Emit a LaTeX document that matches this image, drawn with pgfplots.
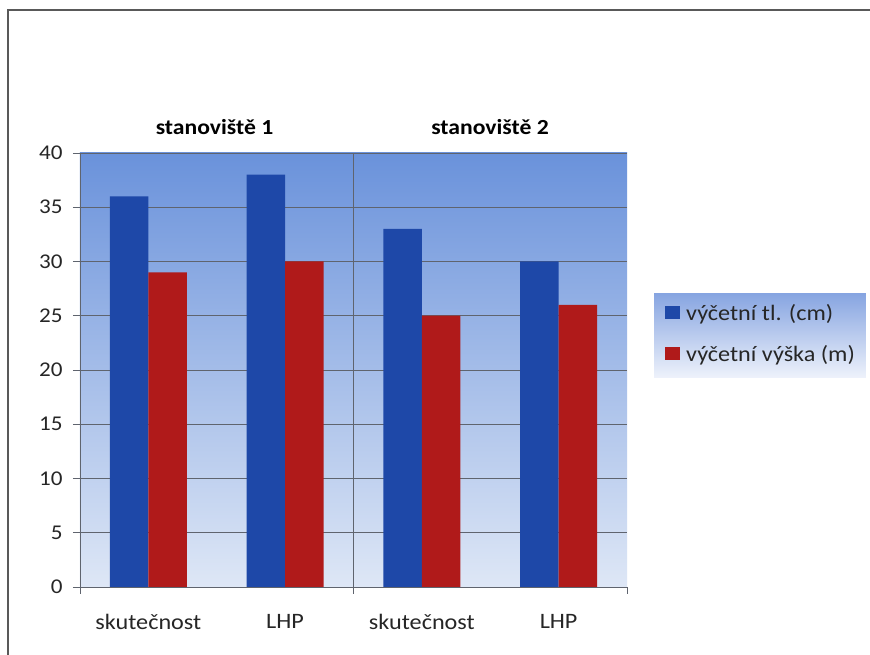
\documentclass[border=0pt]{standalone}
\usepackage{pgfplots}
\pgfplotsset{compat=1.18}
\usepackage{fontspec}
\setmainfont{Carlito}[FakeStretch=1.1]
\definecolor{barblue}{RGB}{30,72,168}
\definecolor{barred}{RGB}{176,26,26}
\definecolor{bgtop}{RGB}{106,146,219}
\definecolor{bgbot}{RGB}{222,231,246}
\definecolor{legtop}{RGB}{135,165,225}
\definecolor{legbot}{RGB}{238,242,251}
\definecolor{gridc}{RGB}{95,100,110}
\begin{document}
\begin{tikzpicture}[x=1pt,y=1pt]
\path[use as bounding box] (0,0) rectangle (870,655);
\fill[white] (0,0) rectangle (870,655);
\draw[line width=1.6pt, color=black!65] (8,0) -- (8,645) -- (870,645);
\node[font=\bfseries\fontsize{21.5}{25}\selectfont] at (214.5,528) {stanoviště 1};
\node[font=\bfseries\fontsize{21.5}{25}\selectfont] at (490,528) {stanoviště 2};
\begin{axis}[
  at={(80pt,68pt)}, anchor=south west, scale only axis,
  width=547pt, height=434pt,
  ybar=0pt, bar width=38.5pt,
  xmin=-0.5, xmax=3.5, ymin=0, ymax=40,
  ytick={0,5,...,40},
  xtick={-0.5,1.5,3.5}, xticklabels={},
  extra x ticks={0,1,2,3},
  extra x tick labels={skutečnost,LHP,skutečnost,LHP},
  extra x tick style={major tick length=0pt, xticklabel style={yshift=-24pt, font=\fontsize{22}{26}\selectfont}},
  axis x line=bottom, axis y line=left,
  axis line style={-, draw=gridc, line width=0.8pt},
  tick align=outside, major tick length=7pt,
  tick style={draw=gridc, line width=0.8pt},
  ymajorgrids, grid style={draw=gridc, line width=0.8pt},
  axis background/.style={top color=bgtop, bottom color=bgbot},
  /pgf/number format/assume math mode=true,
  ticklabel style={font=\fontsize{21}{25}\selectfont, text=black!85},
  yticklabel style={xshift=-7pt},
  legend cell align=left,
  legend style={at={(1.0494,0.4816)}, anchor=south west, draw=none,
    top color=legtop, bottom color=legbot,
    font=\fontsize{22}{26}\selectfont, text=black!85,
    inner xsep=11pt, inner ysep=11pt, row sep=20pt, column sep=6pt,
    nodes={inner xsep=0pt, inner ysep=0pt, text height=16pt, text depth=5pt}},
  legend image code/.code={\fill[#1, draw=none] (0pt,-4pt) rectangle (15pt,9pt);},
]
\addplot[fill=barblue, draw=none] coordinates {(0,36) (1,38) (2,33) (3,30)};
\addplot[fill=barred, draw=none] coordinates {(0,29) (1,30) (2,25) (3,26)};
\draw[draw=gridc, line width=0.8pt] (axis cs:1.5,0) -- (axis cs:1.5,40);
\legend{výčetní tl. (cm), výčetní výška (m)}
\end{axis}
\end{tikzpicture}
\end{document}
